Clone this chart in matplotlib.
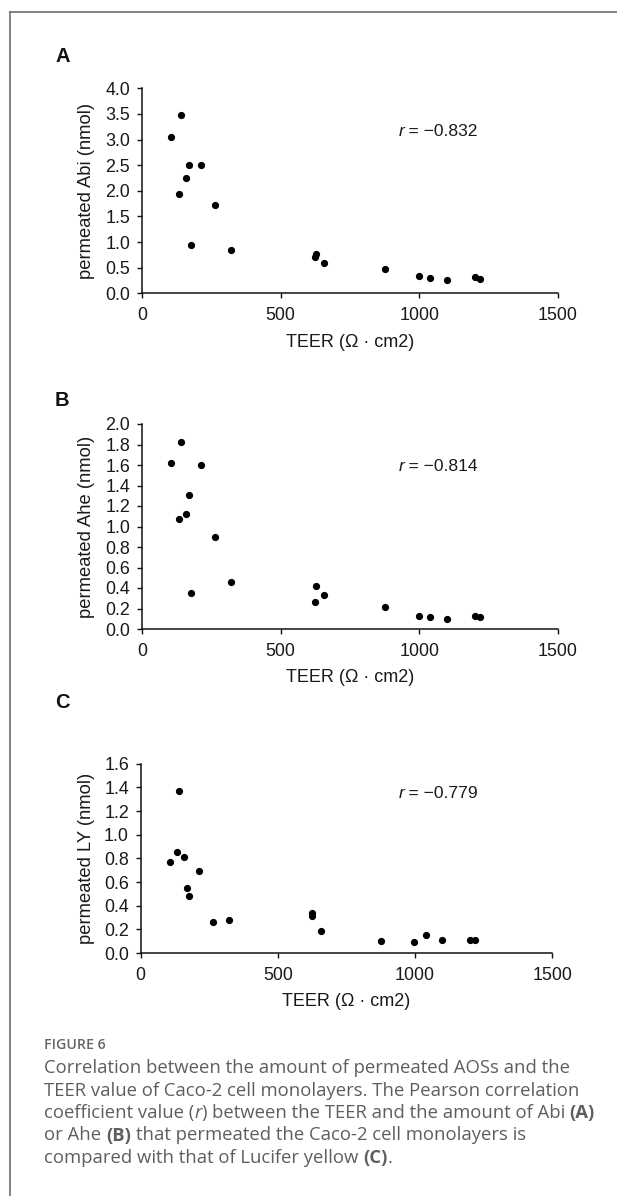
import matplotlib
matplotlib.use("Agg")
import matplotlib.pyplot as plt
from matplotlib.lines import Line2D
import numpy as np

# ---------------- data ----------------
teer = [105, 140, 133, 159, 170, 212, 177, 263, 321, 626, 624, 658, 876, 997, 1039, 1099, 1199, 1220]
abi = [3.05, 3.47, 1.94, 2.24, 2.50, 2.51, 0.94, 1.73, 0.85, 0.77, 0.70, 0.59, 0.47, 0.34, 0.29, 0.26, 0.31, 0.27]
ahe = [1.62, 1.82, 1.07, 1.12, 1.31, 1.60, 0.35, 0.90, 0.455, 0.42, 0.26, 0.33, 0.21, 0.13, 0.12, 0.10, 0.13, 0.12]
ly = [0.77, 1.37, 0.85, 0.81, 0.55, 0.69, 0.48, 0.26, 0.28, 0.34, 0.31, 0.19, 0.10, 0.09, 0.15, 0.11, 0.11, 0.11]

panel_letters = ["A", "B", "C"]
y_labels = ["permeated Abi (nmol)", "permeated Ahe (nmol)", "permeated LY (nmol)"]
r_texts = ["\u22120.832", "\u22120.814", "\u22120.779"]
y_max = [4.0, 2.0, 1.6]
y_step = [0.5, 0.2, 0.2]
x_ticks = [0, 500, 1000, 1500]
x_label = "TEER (\u03a9 \u00b7 cm2)"

W, H = 617, 1196
CHART_FONT = "Liberation Sans"
CAP_FONT = "Open Sans"
TXT = "#1a1a1a"

fig = plt.figure(figsize=(W / 100, H / 100), dpi=100)
renderer = fig.canvas.get_renderer()


def rect(l, r, t, b):
    return [l / W, 1 - b / H, (r - l) / W, (b - t) / H]


axes_px = [(142, 558, 88.3, 293.3), (142, 558, 424, 629), (140.7, 552.3, 763.7, 953)]
letter_y = [57, 400, 702]
xlabel_off = [-0.199, -0.195, -0.211]
ylabel_off = [-0.112, -0.112, -0.11]
r_pos = [(0.618, 0.788), (0.618, 0.795), (0.628, 0.84)]
series = [abi, ahe, ly]

for i in range(3):
    l, r, t, b = axes_px[i]
    ax = fig.add_axes(rect(l, r, t, b))
    ax.plot(teer, series[i], "o", color="black", markersize=4.2, clip_on=False)
    ax.set_xlim(0, 1500)
    ax.set_ylim(0, y_max[i])
    ax.set_xticks(x_ticks)
    yt = np.round(np.arange(0, y_max[i] + 1e-9, y_step[i]), 2)
    ax.set_yticks(yt)
    ax.set_yticklabels([f"{v:.1f}" for v in yt])
    for s in ["top", "right"]:
        ax.spines[s].set_visible(False)
    for s in ["left", "bottom"]:
        ax.spines[s].set_linewidth(1.1)
        ax.spines[s].set_color("#111111")
    ax.tick_params(axis="both", direction="out", length=3.5, width=1.0, color="#111111",
                   labelsize=12.9, labelcolor=TXT)
    ax.tick_params(axis="y", pad=5)
    ax.tick_params(axis="x", pad=6.5)
    for lab in ax.get_xticklabels() + ax.get_yticklabels():
        lab.set_fontfamily(CHART_FONT)
    ax.set_ylabel(y_labels[i], fontsize=13.2, family=CHART_FONT, color=TXT)
    ax.yaxis.set_label_coords(ylabel_off[i], 0.5)
    ax.set_xlabel(x_label, fontsize=13.0, family=CHART_FONT, color=TXT)
    ax.xaxis.set_label_coords(0.5, xlabel_off[i])
    tr = ax.text(r_pos[i][0], r_pos[i][1], "r", style="italic", fontsize=12.6,
                 family=CHART_FONT, transform=ax.transAxes, va="center", ha="left", color=TXT)
    rw = tr.get_window_extent(renderer).width / (r - l)
    ax.text(r_pos[i][0] + rw, r_pos[i][1], "\u2009= " + r_texts[i], fontsize=12.6,
            family=CHART_FONT, transform=ax.transAxes, va="center", ha="left", color=TXT)
    fig.text(55 / W, 1 - letter_y[i] / H, panel_letters[i], fontsize=14.5, fontweight="bold",
             family=CHART_FONT, va="center", ha="left", color="#111111")

# border lines
bx = 9.5 / W
by = 1 - 12 / H
fig.add_artist(Line2D([bx, bx], [0, by], transform=fig.transFigure, color="#6e6e6e", lw=1.2))
fig.add_artist(Line2D([bx, 1.0], [by, by], transform=fig.transFigure, color="#6e6e6e", lw=1.2))

# caption
CAP_SIZE = 13.3
CAP_COLOR = "#5e5e5e"


def tw(s, **kw):
    t = fig.text(0, 0, s, fontsize=CAP_SIZE, family=CAP_FONT, **kw)
    w = t.get_window_extent(renderer).width
    t.remove()
    return w


space_w = tw("a a") - tw("aa")


def draw_line(y_px, segs, x_px=44):
    x = x_px
    for txt, kw in segs:
        if txt == " ":
            x += space_w
            continue
        t = fig.text(x / W, 1 - y_px / H, txt, fontsize=CAP_SIZE, family=CAP_FONT,
                     color=CAP_COLOR, va="center", ha="left", **kw)
        x += t.get_window_extent(renderer).width


fig.text(44 / W, 1 - 1045 / H, "FIGURE 6", fontsize=10.2, family=CAP_FONT, fontweight="semibold",
         color="#666666", va="center", ha="left")

N = {}
B = {"fontweight": "bold"}
I = {"style": "italic"}
lines = [
    [("Correlation between the amount of permeated AOSs and the", N)],
    [("TEER value of Caco-2 cell monolayers. The Pearson correlation", N)],
    [("coefficient value (", N), ("r", I), (")", N), (" ", N),
     ("between the TEER and the amount of Abi", N), (" ", N), ("(A)", B)],
    [("or Ahe", N), (" ", N), ("(B)", B), (" ", N), ("that permeated the Caco-2 cell monolayers is", N)],
    [("compared with that of Lucifer yellow", N), (" ", N), ("(C)", B), (".", N)],
]
line_y = [1068, 1090.5, 1113, 1135.5, 1158]
for y, segs in zip(line_y, lines):
    draw_line(y, segs)

fig.savefig("out.png", dpi=100, facecolor="white")
